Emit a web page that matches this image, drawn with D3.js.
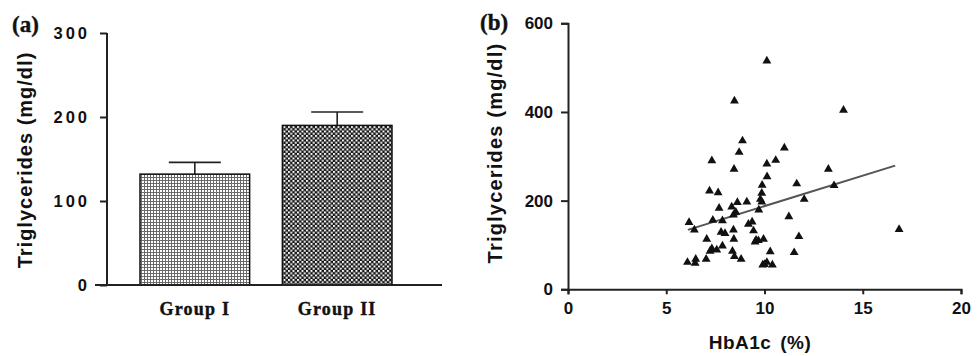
<!DOCTYPE html>
<html>
<head>
<meta charset="utf-8">
<script src="https://cdn.jsdelivr.net/npm/d3@7"></script>
<style>
  body { margin: 0; background: #fff; }
  svg { display: block; }
  .sans { font-family: "Liberation Sans", Arial, sans-serif; font-weight: bold; fill: #111; }
  .serif { font-family: "Liberation Serif", "Times New Roman", serif; font-weight: bold; fill: #111; stroke: #111; stroke-width: 0.4; }
</style>
</head>
<body>
<div id="chart"></div>
<script>
// Panel (a): bar chart
const groups = ["Group I", "Group II"];
const groupMeans = [132, 190];
const groupErrors = [14, 16];
const ticksA = [0, 100, 200, 300];

// Panel (b): scatter of HbA1c vs triglycerides
const hba1c = [10.12, 8.47, 8.88, 8.71, 7.32, 8.45, 11.01, 10.57, 10.12, 10.13,
  7.2, 7.64, 9.88, 9.86, 8.62, 9.1, 9.79, 9.86, 11.64, 12.02,
  7.69, 8.33, 8.54, 9.71, 6.16, 7.37, 7.86, 6.43, 11.24, 9.18,
  9.37, 9.44, 7.06, 7.79, 7.99, 8.42, 8.44, 9.57, 9.69, 9.95,
  11.75, 7.32, 7.57, 7.23, 7.86, 8.37, 8.47, 8.81, 10.29, 11.51,
  6.08, 6.5, 6.47, 7.03, 9.91, 10.12, 10.4, 10.0, 14.02, 16.85,
  13.25, 13.54, 8.42, 9.52];
const triglycerides = [515, 425, 335, 309, 290, 271, 319, 291, 283, 254,
  222, 218, 235, 217, 196, 197, 203, 197, 238, 203,
  183, 186, 174, 179, 151, 156, 155, 134, 164, 147,
  152, 132, 113, 129, 126, 134, 113, 111, 110, 113,
  119, 92, 89, 86, 98, 86, 74, 68, 85, 83,
  61, 68, 59, 68, 55, 61, 55, 56, 404, 135,
  271, 234, 168, 107];
const fitX = [6.1, 16.65];
const fitY = [134, 279];
const ticksBx = [0, 5, 10, 15, 20];
const ticksBy = [0, 200, 400, 600];

const svg = d3.select("#chart").append("svg")
  .attr("width", 977)
  .attr("height", 356);

// Fill patterns for the two bars
const defs = svg.append("defs");
const grid = defs.append("pattern")
  .attr("id", "grid")
  .attr("patternUnits", "userSpaceOnUse")
  .attr("width", 3).attr("height", 3);
grid.append("rect").attr("width", 3).attr("height", 3).attr("fill", "#fff");
grid.append("rect").attr("width", 3).attr("height", 1).attr("fill", "#6a6a6a");
grid.append("rect").attr("width", 1).attr("height", 3).attr("fill", "#6a6a6a");

const checker = defs.append("pattern")
  .attr("id", "checker")
  .attr("patternUnits", "userSpaceOnUse")
  .attr("width", 4.5).attr("height", 4.5);
checker.append("rect").attr("width", 4.5).attr("height", 4.5).attr("fill", "#111");
checker.append("rect").attr("x", 0).attr("y", 0).attr("width", 2).attr("height", 2).attr("fill", "#fff");
checker.append("rect").attr("x", 2.25).attr("y", 2.25).attr("width", 2).attr("height", 2).attr("fill", "#fff");

const fills = ["url(#grid)", "url(#checker)"];

// ---------- Panel (a) ----------
const yA = d3.scaleLinear().domain([0, 300]).range([285, 33]);
const xA = d3.scaleBand().domain(groups).range([140, 392]).paddingInner(0.23).paddingOuter(0);
const gA = svg.append("g");

// error bars first, bars drawn over them
groups.forEach((g, i) => {
  const cx = xA(g) + xA.bandwidth() / 2;
  gA.append("line")
    .attr("x1", cx).attr("x2", cx)
    .attr("y1", yA(groupMeans[i])).attr("y2", yA(groupMeans[i] + groupErrors[i]))
    .attr("stroke", "#222").attr("stroke-width", 1.6);
  gA.append("line")
    .attr("x1", cx - 26).attr("x2", cx + 26)
    .attr("y1", yA(groupMeans[i] + groupErrors[i])).attr("y2", yA(groupMeans[i] + groupErrors[i]))
    .attr("stroke", "#222").attr("stroke-width", 1.6);
});

gA.selectAll("rect.bar")
  .data(groups)
  .enter()
  .append("rect")
  .attr("class", "bar")
  .attr("x", d => xA(d))
  .attr("y", (d, i) => yA(groupMeans[i]))
  .attr("width", xA.bandwidth())
  .attr("height", (d, i) => yA(0) - yA(groupMeans[i]))
  .attr("fill", (d, i) => fills[i])
  .attr("stroke", "#111")
  .attr("stroke-width", 1.5);

const axisA = gA.append("g")
  .attr("transform", "translate(107,0)")
  .call(d3.axisLeft(yA).tickValues(ticksA).tickSize(7).tickPadding(10));
axisA.select(".domain").remove();
axisA.selectAll(".tick line").attr("stroke", "#222").attr("stroke-width", 2);
axisA.selectAll(".tick text")
  .attr("class", "sans")
  .attr("font-size", 16.5)
  .attr("letter-spacing", 3)
  .attr("dy", "0.36em");

gA.append("line")
  .attr("x1", 107).attr("x2", 107).attr("y1", yA(300)).attr("y2", yA(0))
  .attr("stroke", "#222").attr("stroke-width", 2);
gA.append("line")
  .attr("x1", 95).attr("x2", 442).attr("y1", yA(0)).attr("y2", yA(0))
  .attr("stroke", "#222").attr("stroke-width", 2);

gA.selectAll("text.group")
  .data(groups)
  .enter()
  .append("text")
  .attr("class", "serif")
  .attr("x", d => xA(d) + xA.bandwidth() / 2)
  .attr("y", 315)
  .attr("text-anchor", "middle")
  .attr("font-size", 18)
  .attr("letter-spacing", 1.2)
  .text(d => d);

gA.append("text")
  .attr("class", "sans")
  .attr("transform", "translate(32,160) rotate(-90)")
  .attr("text-anchor", "middle")
  .attr("font-size", 20)
  .attr("letter-spacing", 1)
  .text("Triglycerides (mg/dl)");

gA.append("text")
  .attr("class", "serif")
  .attr("x", 12).attr("y", 32)
  .attr("font-size", 23)
  .text("(a)");

// ---------- Panel (b) ----------
const xB = d3.scaleLinear().domain([0, 20]).range([568, 961]);
const yB = d3.scaleLinear().domain([0, 600]).range([289.3, 23.3]);
const gB = svg.append("g");

const axisBx = gB.append("g")
  .attr("transform", `translate(0,${yB(0)})`)
  .call(d3.axisBottom(xB).tickValues(ticksBx).tickSize(5).tickPadding(8));
const axisBy = gB.append("g")
  .attr("transform", `translate(${xB(0)},0)`)
  .call(d3.axisLeft(yB).tickValues(ticksBy).tickSize(7).tickPadding(8));
[axisBx, axisBy].forEach(ax => {
  ax.select(".domain").attr("stroke", "#222").attr("stroke-width", 2);
  ax.selectAll(".tick line").attr("stroke", "#222").attr("stroke-width", 2);
  ax.selectAll(".tick text").attr("class", "sans").attr("font-size", 17);
});

gB.append("line")
  .attr("x1", xB(fitX[0])).attr("y1", yB(fitY[0]))
  .attr("x2", xB(fitX[1])).attr("y2", yB(fitY[1]))
  .attr("stroke", "#555").attr("stroke-width", 2);

const tri = d3.symbol().type(d3.symbolTriangle).size(34);
gB.selectAll("path.pt")
  .data(hba1c)
  .enter()
  .append("path")
  .attr("class", "pt")
  .attr("d", tri)
  .attr("transform", (d, i) => `translate(${xB(d)},${yB(triglycerides[i])})`)
  .attr("fill", "#111");

gB.append("text")
  .attr("class", "sans")
  .attr("x", 760).attr("y", 349)
  .attr("text-anchor", "middle")
  .attr("font-size", 19)
  .attr("letter-spacing", 0.5)
  .attr("word-spacing", 3)
  .text("HbA1c (%)");

gB.append("text")
  .attr("class", "sans")
  .attr("transform", "translate(502,153) rotate(-90)")
  .attr("text-anchor", "middle")
  .attr("font-size", 20)
  .attr("letter-spacing", 1.2)
  .text("Triglycerides (mg/dl)");

gB.append("text")
  .attr("class", "serif")
  .attr("x", 480).attr("y", 30)
  .attr("font-size", 23)
  .text("(b)");
</script>
</body>
</html>
